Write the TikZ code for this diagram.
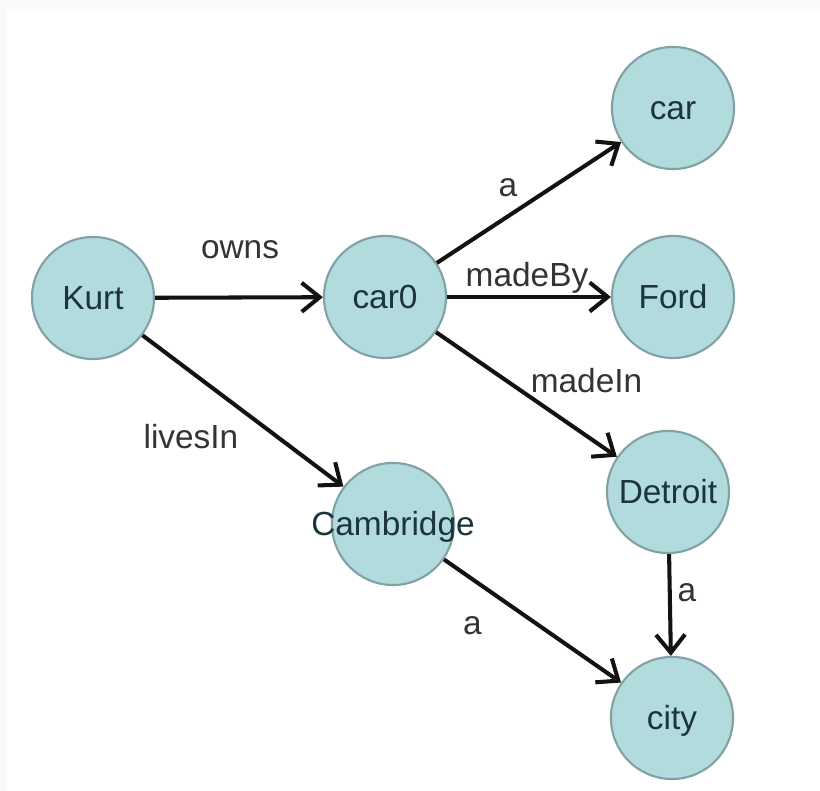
\documentclass[tikz,border=0pt]{standalone}
\usepackage{fontspec}
\setmainfont{Liberation Sans}
\usetikzlibrary{arrows.meta}

\definecolor{nodefill}{RGB}{178,219,222}
\definecolor{nodeline}{RGB}{128,162,166}
\definecolor{nodetext}{RGB}{28,52,60}
\definecolor{lbltext}{RGB}{52,52,52}
\definecolor{arrowcol}{RGB}{18,18,18}

\begin{document}
\begin{tikzpicture}[x=0.01cm, y=0.01cm,
	res/.style={circle, draw=nodeline, line width=0.6pt, fill=nodefill, minimum size=12.2mm, inner sep=0pt,
		text=nodetext, font=\fontsize{9.5}{11}\selectfont, text height=6.8pt, text depth=0pt},
	rel/.style={draw=arrowcol, line width=1.15pt, -{Straight Barb[length=1.8mm, width=2.9mm]}},
	lbl/.style={anchor=base, inner sep=0pt, text=lbltext, font=\fontsize{9.5}{11}\selectfont}]
	
	\useasboundingbox (0,0) rectangle (820,791);
	\fill[gray!4] (0,0) rectangle (820,791);
	\fill[white] (7,0) rectangle (820,782);
	
	\node[res] (Kurt) at (93,493) {Kurt};
	\node[res] (car0) at (385,494) {car0};
	\node[res] (car) at (673,683) {car};
	\node[res] (Ford) at (673,494) {Ford};
	\node[res] (Detroit) at (668,299) {Detroit};
	\node[res] (Cambridge) at (393,267) {\makebox[0pt]{Cambridge}};
	\node[res] (city) at (672,73) {city};
	
	\draw[rel] (Kurt) -- node[lbl, xshift=0.1mm, yshift=3.9mm] {owns} (car0);
	\draw[rel] (Kurt) -- node[lbl, xshift=-5.2mm, yshift=-3.7mm] {livesIn} (Cambridge);
	
	\draw[rel] (car0) -- node[lbl, xshift=-2.1mm, yshift=0.55mm] {a} (car);
	\draw[rel] (car0) -- node[lbl, xshift=-0.2mm, yshift=1mm] {madeBy} (Ford);
	\draw[rel] (car0) -- node[lbl, xshift=6mm, yshift=0.15mm] {madeIn} (Detroit);
	
	\draw[rel] (Detroit) -- node[lbl, xshift=1.7mm, yshift=0.3mm] {a} (city);
	\draw[rel] (Cambridge) -- node[lbl, xshift=-6mm, yshift=-1.4mm] {a} (city);
	
\end{tikzpicture}
\end{document}
